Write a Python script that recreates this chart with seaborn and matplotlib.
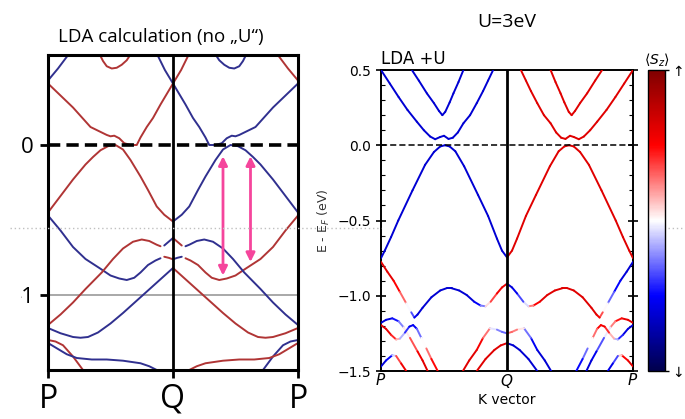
import numpy as np
import matplotlib
matplotlib.use("Agg")
import matplotlib.pyplot as plt
from matplotlib.collections import LineCollection
from matplotlib.lines import Line2D
from matplotlib.patches import Rectangle
from matplotlib.ticker import MultipleLocator
import seaborn as sns

# ======================= DATA =======================
# ---- Left panel: LDA (no U). Half path P->Q (k in [0,1]); the Q->P half is its mirror image
#      with the spin colours swapped ('r' <-> 'b').
lda_tl_k = [0.0, 0.08, 0.17]
lda_tl_E = [0.43, 0.51, 0.61]
lda_tq_k = [0.87, 0.935, 1.0]
lda_tq_E = [0.61, 0.50, 0.41]
lda_arc_k = [0.41, 0.44, 0.47, 0.51, 0.55, 0.59, 0.63, 0.665]
lda_arc_E = [0.61, 0.56, 0.525, 0.51, 0.515, 0.535, 0.565, 0.61]
lda_r1_k = [0.0, 0.10, 0.20, 0.34, 0.47, 0.50, 0.53, 0.57, 0.61, 0.66, 0.71, 0.74, 0.79, 0.84, 0.90, 0.95, 1.0]
lda_r1_E = [0.41, 0.33, 0.25, 0.12, 0.067, 0.058, 0.062, 0.045, 0.012, 0.0, 0.0, 0.05, 0.12, 0.18, 0.27, 0.34, 0.41]
lda_r2_k = [0.0, 0.10, 0.20, 0.30, 0.36, 0.42, 0.48, 0.54, 0.60, 0.66, 0.74, 0.80, 0.87, 0.93, 1.0]
lda_r2_E = [-0.45, -0.34, -0.23, -0.13, -0.08, -0.035, -0.008, 0.0, -0.03, -0.10, -0.21, -0.30, -0.41, -0.465, -0.51]
lda_b2_k = [0.0, 0.10, 0.20, 0.30, 0.42, 0.50, 0.57, 0.63, 0.69, 0.74, 0.80, 0.86, 0.90]
lda_b2_E = [-0.47, -0.57, -0.68, -0.76, -0.825, -0.87, -0.89, -0.90, -0.885, -0.85, -0.80, -0.77, -0.755]
lda_b2q_k = [0.93, 0.965, 1.0]
lda_b2q_E = [-0.745, -0.752, -0.762]
lda_r3_k = [0.0, 0.10, 0.20, 0.30, 0.43, 0.52, 0.60, 0.68, 0.75, 0.81, 0.87, 0.90]
lda_r3_E = [-1.20, -1.13, -1.05, -0.96, -0.85, -0.76, -0.69, -0.645, -0.63, -0.64, -0.665, -0.675]
lda_r3q_k = [0.93, 0.965, 1.0]
lda_r3q_E = [-0.67, -0.645, -0.62]
lda_b3_k = [0.0, 0.10, 0.20, 0.26, 0.32, 0.40, 0.50, 0.60, 0.70, 0.80, 0.90, 1.0]
lda_b3_E = [-1.22, -1.255, -1.28, -1.285, -1.28, -1.25, -1.19, -1.12, -1.045, -0.97, -0.895, -0.82]
lda_r4_k = [0.0, 0.06, 0.12, 0.20, 0.28]
lda_r4_E = [-1.30, -1.31, -1.335, -1.41, -1.50]
lda_b4_k = [0.0, 0.08, 0.15, 0.23, 0.35, 0.47, 0.60, 0.74, 0.81, 0.87]
lda_b4_E = [-1.32, -1.36, -1.395, -1.42, -1.43, -1.43, -1.438, -1.455, -1.475, -1.50]

lda_bands = [
    (lda_tl_k, lda_tl_E, 'b'), (lda_tq_k, lda_tq_E, 'b'), (lda_arc_k, lda_arc_E, 'r'),
    (lda_r1_k, lda_r1_E, 'r'), (lda_r2_k, lda_r2_E, 'r'), (lda_b2_k, lda_b2_E, 'b'),
    (lda_b2q_k, lda_b2q_E, 'r'), (lda_r3_k, lda_r3_E, 'r'), (lda_r3q_k, lda_r3q_E, 'b'),
    (lda_b3_k, lda_b3_E, 'b'), (lda_r4_k, lda_r4_E, 'r'), (lda_b4_k, lda_b4_E, 'b'),
]
lda_yticks = [0, -1]
lda_ytick_labels = ['0', '-1']
kpath_ticks = [0, 1, 2]
kpath_labels = ['P', 'Q', 'P']

# optical transitions (pink arrows)
arrow_k = [1.40, 1.62]
arrow_top = [-0.075, -0.075]
arrow_bot = [-0.87, -0.78]

# ---- Right panel: LDA+U, half path P->Q with spin <Sz>; Q->P half mirrored with <Sz> -> -<Sz>
u1_k = [0.245, 0.30, 0.364, 0.42, 0.46, 0.487, 0.51, 0.545, 0.575, 0.615, 0.654]
u1_E = [0.50, 0.43, 0.345, 0.28, 0.228, 0.20, 0.222, 0.285, 0.345, 0.42, 0.50]
u1_S = -0.62
u2_k = [0.0, 0.07, 0.14, 0.21, 0.284, 0.34, 0.39, 0.43, 0.47, 0.50, 0.536, 0.57, 0.61, 0.654, 0.707, 0.76, 0.81, 0.85, 0.89]
u2_E = [0.50, 0.41, 0.32, 0.235, 0.157, 0.10, 0.058, 0.04, 0.055, 0.063, 0.042, 0.05, 0.085, 0.146, 0.20, 0.28, 0.36, 0.43, 0.50]
u2_S = -0.62
v1_k = [0.0, 0.03, 0.08, 0.137, 0.25, 0.35, 0.42, 0.47, 0.507, 0.545, 0.59, 0.66, 0.77, 0.85, 0.92, 0.96, 1.0]
v1_E = [-0.75, -0.70, -0.61, -0.50, -0.30, -0.13, -0.045, -0.008, 0.0, -0.008, -0.04, -0.14, -0.33, -0.47, -0.62, -0.70, -0.745]
v1_S = -0.62
l1_k = [0.0, 0.05, 0.10, 0.15, 0.20, 0.24, 0.265, 0.29, 0.33, 0.40, 0.47, 0.52, 0.56, 0.62, 0.68, 0.74, 0.79, 0.83, 0.87, 0.92, 0.96, 1.0]
l1_E = [-0.775, -0.84, -0.90, -0.975, -1.05, -1.11, -1.145, -1.125, -1.08, -1.01, -0.965, -0.95, -0.95, -0.965, -0.995, -1.04, -1.065, -1.07, -1.04, -0.985, -0.945, -0.92]
l1_S = [0.62, 0.62, 0.57, 0.42, 0.18, -0.2, -0.5, -0.6, -0.62, -0.62, -0.62, -0.62, -0.62, -0.62, -0.62, -0.6, -0.42, -0.1, 0.25, 0.48, 0.6, 0.62]
la_k = [0.0, 0.04, 0.09, 0.14, 0.18, 0.23, 0.29, 0.33, 0.37]
la_E = [-1.18, -1.16, -1.15, -1.17, -1.21, -1.28, -1.37, -1.43, -1.50]
la_S = [-0.62, -0.62, -0.55, -0.38, -0.12, 0.2, 0.48, 0.6, 0.62]
lb_k = [0.0, 0.04, 0.08, 0.12, 0.15, 0.19, 0.225, 0.255, 0.285, 0.32, 0.36, 0.40, 0.45]
lb_E = [-1.195, -1.22, -1.26, -1.29, -1.285, -1.245, -1.205, -1.195, -1.22, -1.28, -1.35, -1.42, -1.50]
lb_S = [0.62, 0.62, 0.55, 0.3, 0.0, -0.3, -0.52, -0.6, -0.42, -0.15, 0.15, 0.42, 0.55]
lc_k = [0.0, 0.04, 0.09, 0.12, 0.16, 0.20]
lc_E = [-1.47, -1.43, -1.395, -1.40, -1.45, -1.50]
lc_S = [-0.62, -0.6, -0.4, 0.2, 0.52, 0.6]
ld_k = [0.65, 0.70, 0.76, 0.81, 0.865, 0.92, 0.96, 1.0]
ld_E = [-1.50, -1.43, -1.36, -1.28, -1.216, -1.225, -1.24, -1.25]
ld_S = [0.62, 0.62, 0.6, 0.45, 0.1, -0.2, -0.3, -0.3]
le_k = [0.76, 0.83, 0.90, 0.95, 1.0]
le_E = [-1.50, -1.42, -1.36, -1.33, -1.315]
le_S = 0.62

ldau_bands = [
    (u1_k, u1_E, u1_S), (u2_k, u2_E, u2_S), (v1_k, v1_E, v1_S), (l1_k, l1_E, l1_S),
    (la_k, la_E, la_S), (lb_k, lb_E, lb_S), (lc_k, lc_E, lc_S), (ld_k, ld_E, ld_S),
    (le_k, le_E, le_S),
]
ldau_yticks = [0.5, 0.0, -0.5, -1.0, -1.5]
ldau_xtick_labels = ['$P$', '$Q$', '$P$']
cbar_ticks = [-1, 1]
cbar_tick_labels = ['↓', '↑']

# ======================= STYLE =======================
sns.set_theme(style="ticks")
plt.rcParams['font.family'] = ['DejaVu Sans']
for key in ['axes.edgecolor', 'xtick.color', 'ytick.color', 'text.color', 'axes.labelcolor']:
    plt.rcParams[key] = 'black'

W, H = 685, 419
def fy(py):
    return 1 - py / H

LDA_COL = {'r': '#b03535', 'b': '#30308f'}
SWAP = {'r': 'b', 'b': 'r'}
PINK = '#f5459c'
SLIDE_FONT = 'Open Sans'

fig = plt.figure(figsize=(W / 100, H / 100), dpi=100)

# ======================= LEFT PANEL =======================
axL = fig.add_axes([48 / W, 1 - 370 / H, 250 / W, 315 / H])
for k, E, c in lda_bands:
    k = np.asarray(k, float)
    E = np.asarray(E, float)
    sns.lineplot(x=k, y=E, color=LDA_COL[c], linewidth=1.4, sort=False,
                 estimator=None, ax=axL)
    sns.lineplot(x=2 - k, y=E, color=LDA_COL[SWAP[c]], linewidth=1.4, sort=False,
                 estimator=None, ax=axL)
axL.axvline(1, color='black', lw=2, zorder=4)
axL.axhline(0, color='black', lw=2.6, ls=(0, (3.4, 1.7)), zorder=5)
axL.axhline(-1, color='#9a9a9a', lw=1.2, zorder=0.8)
axL.set_xlim(0, 2)
axL.set_ylim(-1.5, 0.6)
axL.set_yticks(lda_yticks)
axL.set_yticklabels(lda_ytick_labels, fontfamily=SLIDE_FONT, fontsize=16)
axL.set_xticks(kpath_ticks)
axL.set_xticklabels(kpath_labels, fontfamily=SLIDE_FONT, fontsize=23)
axL.tick_params(axis='y', length=6, width=2, pad=4)
axL.tick_params(axis='x', length=6, width=2, pad=3)
axL.set_xlabel('')
axL.set_ylabel('')
for sp in axL.spines.values():
    sp.set_linewidth(2.2)
    sp.set_color('black')
for kk, et, eb in zip(arrow_k, arrow_top, arrow_bot):
    axL.annotate('', xy=(kk, et), xytext=(kk, eb),
                 arrowprops=dict(arrowstyle='<|-|>', color=PINK, lw=2,
                                 mutation_scale=13, shrinkA=0, shrinkB=0),
                 zorder=6)
fig.text(161 / W, fy(37), 'LDA calculation (no \u201eU\u201c)', ha='center', va='center',
         fontfamily=SLIDE_FONT, fontsize=13.5)

# ======================= RIGHT PANEL =======================
cmap = plt.get_cmap('seismic')
norm = plt.Normalize(-1, 1)
axR = fig.add_axes([381 / W, 1 - 371 / H, 252 / W, 301 / H])
for k, E, S in ldau_bands:
    k = np.asarray(k, float)
    E = np.asarray(E, float)
    S = np.broadcast_to(np.asarray(S, float), E.shape)
    for kk, sgn in ((k, 1.0), (2 - k, -1.0)):
        pts = np.column_stack([kk, E])
        segs = np.stack([pts[:-1], pts[1:]], axis=1)
        s = sgn * S
        cols = cmap(norm(0.5 * (s[:-1] + s[1:])))
        lc = LineCollection(segs, colors=cols, linewidths=1.4, capstyle='round',
                            joinstyle='round', zorder=3)
        axR.add_collection(lc)
axR.axvline(1, color='black', lw=2, zorder=4)
axR.axhline(0, color='black', lw=1.1, ls=(0, (4, 2)), zorder=4)
axR.set_xlim(0, 2)
axR.set_ylim(-1.5, 0.5)
axR.set_yticks(ldau_yticks)
axR.set_yticklabels([f"{v:.1f}".replace('-', '\u2212') for v in ldau_yticks], fontsize=10)
axR.yaxis.set_minor_locator(MultipleLocator(0.1))
axR.tick_params(axis='y', which='major', direction='inout', length=7, width=1.2,
                left=True, right=True)
axR.tick_params(axis='y', which='minor', direction='in', length=3, width=0.8,
                left=True, right=True)
axR.set_xticks(kpath_ticks)
axR.set_xticklabels(ldau_xtick_labels, fontsize=11)
axR.tick_params(axis='x', length=0, pad=1)
axR.set_xlabel('K vector', fontsize=10, labelpad=2)
axR.set_ylabel('E - E$_F$ (eV)', fontsize=9, labelpad=4, color='#333333')
axR.set_title('LDA +U', loc='left', fontsize=12, pad=4)
for sp in axR.spines.values():
    sp.set_linewidth(1.4)
    sp.set_color('black')

cax = fig.add_axes([648 / W, 1 - 371 / H, 17 / W, 301 / H])
sm = plt.cm.ScalarMappable(norm=norm, cmap=cmap)
cb = fig.colorbar(sm, cax=cax)
cb.set_ticks(cbar_ticks)
cb.set_ticklabels(cbar_tick_labels)
cax.tick_params(length=3, width=1, labelsize=10, pad=2)
cb.outline.set_linewidth(1.0)
cax.set_title(r'$\langle S_z\rangle$', fontsize=10, pad=4)

fig.text(507 / W, fy(22), 'U=3eV', ha='center', va='center',
         fontfamily=SLIDE_FONT, fontsize=14)

# remnants of the slide composition
fig.add_artist(Rectangle((0, fy(305)), 21 / W, 22 / H, transform=fig.transFigure,
                         facecolor='white', edgecolor='none', zorder=3))
fig.add_artist(Line2D([10 / W, 381 / W], [fy(228)] * 2, transform=fig.transFigure,
                      color='#c0c0c0', lw=1, ls=(0, (1, 2)), zorder=5))
fig.add_artist(Line2D([668 / W, 1.0], [fy(228)] * 2, transform=fig.transFigure,
                      color='#c0c0c0', lw=1, ls=(0, (1, 2)), zorder=5))

fig.savefig('out.png', dpi=100)
